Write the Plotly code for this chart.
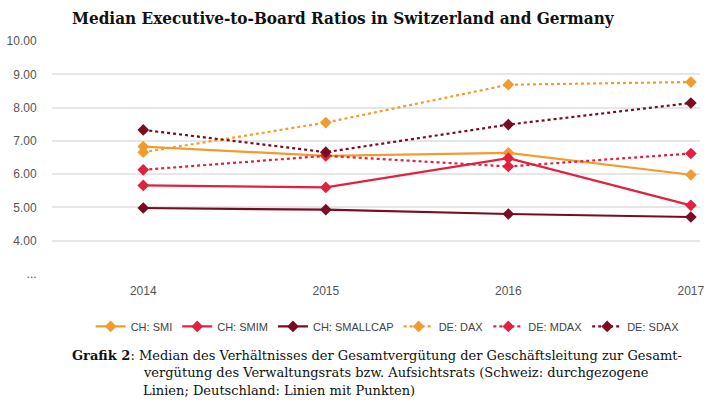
import plotly.graph_objects as go

years = [2014, 2015, 2016, 2017]
year_labels = ["2014", "2015", "2016", "2017"]

ch_smi = [6.83, 6.55, 6.64, 5.98]
ch_smim = [5.66, 5.60, 6.48, 5.06]
ch_smallcap = [4.98, 4.93, 4.80, 4.71]
de_dax = [6.66, 7.55, 8.69, 8.77]
de_mdax = [6.13, 6.55, 6.23, 6.62]
de_sdax = [7.33, 6.66, 7.49, 8.14]

y_tickvals = [3, 4, 5, 6, 7, 8, 9, 10]
y_ticktext = ["...", "4.00", "5.00", "6.00", "7.00", "8.00", "9.00", "10.00"]

ORANGE = "#F29B2E"
RED = "#E2213F"
MAROON = "#7A0B20"

series = [
    ("CH: SMI", ch_smi, ORANGE, "solid"),
    ("CH: SMIM", ch_smim, RED, "solid"),
    ("CH: SMALLCAP", ch_smallcap, MAROON, "solid"),
    ("DE: DAX", de_dax, ORANGE, "dot"),
    ("DE: MDAX", de_mdax, RED, "dot"),
    ("DE: SDAX", de_sdax, MAROON, "dot"),
]

fig = go.Figure()
for name, vals, color, dash in series:
    fig.add_trace(go.Scatter(
        x=years, y=vals, name=name, mode="lines+markers",
        line=dict(color=color, width=2.2, dash=dash),
        marker=dict(symbol="diamond", size=9, color=color),
    ))

tick_font = dict(family="Liberation Sans Narrow, Liberation Sans, Arial", size=12, color="#555555")

fig.update_layout(
    width=710, height=407,
    margin=dict(l=52, r=10, t=41, b=133, autoexpand=False),
    paper_bgcolor="white", plot_bgcolor="white",
    showlegend=True,
    legend=dict(orientation="h", x=0.518, xanchor="center", y=-0.225, yanchor="middle",
                font=dict(family="Liberation Sans Narrow, Liberation Sans, Arial", size=11, color="#444444"),
                itemwidth=30, tracegroupgap=0, bgcolor="rgba(0,0,0,0)"),
    xaxis=dict(range=[2013.5, 2017.05], tickvals=years, ticktext=year_labels,
               showgrid=False, zeroline=False, showline=False, automargin=False,
               ticks="outside", ticklen=6, tickcolor="rgba(0,0,0,0)",
               tickfont=tick_font),
    yaxis=dict(range=[2.995, 10.005], tickvals=y_tickvals, ticktext=y_ticktext,
               showgrid=True, gridcolor="#E6E6E6", gridwidth=1.5, automargin=False,
               zeroline=False, showline=False,
               ticks="outside", ticklen=12, tickcolor="rgba(0,0,0,0)",
               tickfont=tick_font),
)

serif = "DejaVu Serif, Liberation Serif, serif"
fig.add_annotation(text="<b>Median Executive-to-Board Ratios in Switzerland and Germany</b>",
                   xref="paper", yref="paper", x=(70 - 52) / 648, y=1 + (41 - 18) / 233,
                   xanchor="left", yanchor="middle", showarrow=False,
                   font=dict(family="DejaVu Serif Condensed, Liberation Serif, serif", size=17, color="#111111"))

cap_font = dict(family=serif, size=13, color="#111111")
cap_lines = [
    (70, 355, "<b>Grafik 2</b>: Median des Verhältnisses der Gesamtvergütung der Geschäftsleitung zur Gesamt-"),
    (141, 372, "vergütung des Verwaltungsrats bzw. Aufsichtsrats (Schweiz: durchgezogene"),
    (141, 390, "Linien; Deutschland: Linien mit Punkten)"),
]
for px, py, txt in cap_lines:
    fig.add_annotation(text=txt, xref="paper", yref="paper",
                       x=(px - 52) / 648, y=-(py - 274) / 233,
                       xanchor="left", yanchor="middle", showarrow=False, font=cap_font)

fig.write_html("out.html", config={"displayModeBar": False},
               post_script="document.body.style.margin='0';")
